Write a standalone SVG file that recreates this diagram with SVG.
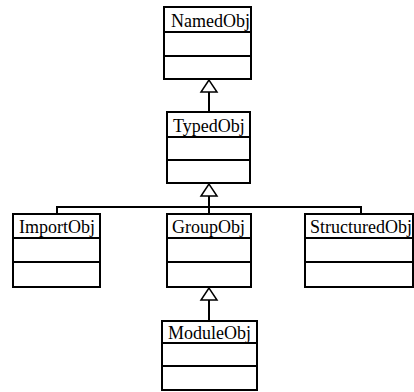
<svg xmlns="http://www.w3.org/2000/svg" width="414" height="392" viewBox="0 0 414 392">
<style>
.box{fill:#fff;stroke:#000;stroke-width:2}
.sep{stroke:#000;stroke-width:2}
.lbl{font-family:"Liberation Serif","Times New Roman",serif;font-size:18px;fill:#000}
.con{fill:none;stroke:#000;stroke-width:2}
.tri{fill:#fff;stroke:#000;stroke-width:1.5}
</style>
<rect width="414" height="392" fill="#fff"/>
<g id="connectors">
<line class="con" x1="209" y1="92" x2="209" y2="111"/>
<polygon class="tri" points="209,80 201,92 217,92"/>
<polyline class="con" points="209,196 209,207"/>
<polyline class="con" points="57,214 57,207 361,207 361,214"/>
<line class="con" x1="209" y1="207" x2="209" y2="214"/>
<polygon class="tri" points="209,184 201,196 217,196"/>
<line class="con" x1="209" y1="300" x2="209" y2="321"/>
<polygon class="tri" points="209,288 201,300 217,300"/>
</g>
<g id="NamedObj">
<rect class="box" x="164" y="7" width="87" height="72"/>
<line class="sep" x1="164" y1="32" x2="251" y2="32"/>
<line class="sep" x1="164" y1="56" x2="251" y2="56"/>
<text class="lbl" x="171" y="27">NamedObj</text>
</g>
<g id="TypedObj">
<rect class="box" x="167" y="112" width="83" height="71"/>
<line class="sep" x1="167" y1="137" x2="250" y2="137"/>
<line class="sep" x1="167" y1="160" x2="250" y2="160"/>
<text class="lbl" x="173" y="132">TypedObj</text>
</g>
<g id="ImportObj">
<rect class="box" x="13" y="214" width="87" height="73"/>
<line class="sep" x1="13" y1="238" x2="100" y2="238"/>
<line class="sep" x1="13" y1="262" x2="100" y2="262"/>
<text class="lbl" x="19" y="233">ImportObj</text>
</g>
<g id="GroupObj">
<rect class="box" x="167" y="214" width="84" height="73"/>
<line class="sep" x1="167" y1="238" x2="251" y2="238"/>
<line class="sep" x1="167" y1="262" x2="251" y2="262"/>
<text class="lbl" x="172" y="233">GroupObj</text>
</g>
<g id="StructuredObj">
<rect class="box" x="305" y="214" width="108" height="73"/>
<line class="sep" x1="305" y1="238" x2="413" y2="238"/>
<line class="sep" x1="305" y1="262" x2="413" y2="262"/>
<text class="lbl" x="310" y="233">StructuredObj</text>
</g>
<g id="ModuleObj">
<rect class="box" x="162" y="321" width="95" height="69"/>
<line class="sep" x1="162" y1="343" x2="257" y2="343"/>
<line class="sep" x1="162" y1="366" x2="257" y2="366"/>
<text class="lbl" x="168" y="339">ModuleObj</text>
</g>
</svg>
